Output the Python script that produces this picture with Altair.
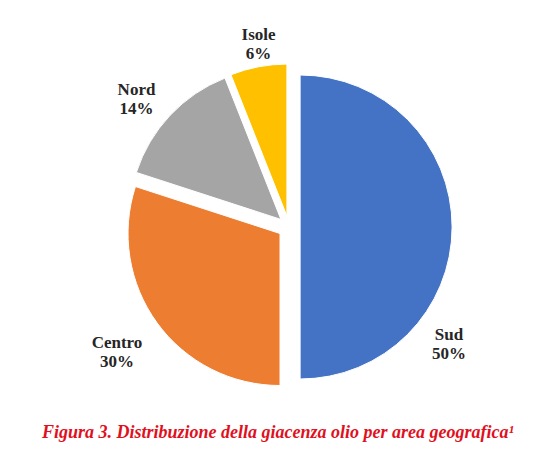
import altair as alt
import pandas as pd

# ---- data ----
categories = ["Sud", "Centro", "Nord", "Isole"]
values = [50, 30, 14, 6]
colors = ["#4472C4", "#ED7D31", "#A5A5A5", "#FFC000"]

# ---- style / layout ----
W, H = 536, 405
CX, CY = 281, 219          # pie centre inside the plot area (px)
R = 152                    # pie radius (px)
EXPLODE = 0.073            # point explosion, fraction of radius
# label placement (polar, angle in degrees clockwise from 12 o'clock, radius in pie radii)
label_angle = [124, 236, 312, 351]
label_radius = [1.27, 1.365, 1.35, 1.28]

caption = "Figura 3. Distribuzione della giacenza olio per area geografica\u00b9"

df = pd.DataFrame({"cat": categories, "value": values, "idx": list(range(len(values)))})
lab = pd.DataFrame({
    "cat": categories,
    "value": values,
    "ang": label_angle,
    "rad": label_radius,
})

xs = alt.Scale(domain=[-1, 1], range=[CX - R, CX + R], nice=False, zero=False)
ys = alt.Scale(domain=[-1, 1], range=[CY + R, CY - R], nice=False, zero=False)
color = alt.Color("cat:N", scale=alt.Scale(domain=categories, range=colors), legend=None)

pie = (
    alt.Chart(df)
    .transform_joinaggregate(total="sum(value)")
    .transform_window(cum="sum(value)", sort=[alt.SortField("idx")], frame=[None, 0])
    .transform_calculate(
        mid="2*PI*(datum.cum - datum.value/2)/datum.total",
    )
    .transform_calculate(
        ex=f"{EXPLODE}*sin(datum.mid)",
        ey=f"{EXPLODE}*cos(datum.mid)",
    )
    .mark_arc(radius=R, stroke="white", strokeWidth=1)
    .encode(
        theta=alt.Theta("value:Q", stack=True),
        order=alt.Order("idx:Q"),
        color=color,
        x=alt.X("ex:Q", scale=xs, axis=None),
        y=alt.Y("ey:Q", scale=ys, axis=None),
    )
)

labels = (
    alt.Chart(lab)
    .transform_calculate(
        lx="datum.rad*sin(datum.ang*PI/180)",
        ly="datum.rad*cos(datum.ang*PI/180)",
        txt="datum.cat + '\\n' + datum.value + '%'",
    )
    .mark_text(
        font="Liberation Serif",
        fontSize=17,
        fontWeight="bold",
        color="#262626",
        lineBreak="\n",
        lineHeight=19,
        align="center",
        baseline="middle",
    )
    .encode(
        x=alt.X("lx:Q", scale=xs, axis=None),
        y=alt.Y("ly:Q", scale=ys, axis=None),
        text="txt:N",
    )
)

chart = (
    alt.layer(pie, labels)
    .properties(
        width=W,
        height=H,
        padding=0,
        background="white",
        title=alt.TitleParams(
            text=caption,
            orient="bottom",
            anchor="middle",
            offset=11,
            dx=2,
            font="Liberation Serif",
            fontSize=18,
            fontStyle="italic",
            fontWeight="bold",
            color="#E0101E",
        ),
    )
    .configure_view(strokeWidth=0, stroke="transparent")
)

chart.save("out.html", embed_options={"renderer": "svg", "actions": False})
